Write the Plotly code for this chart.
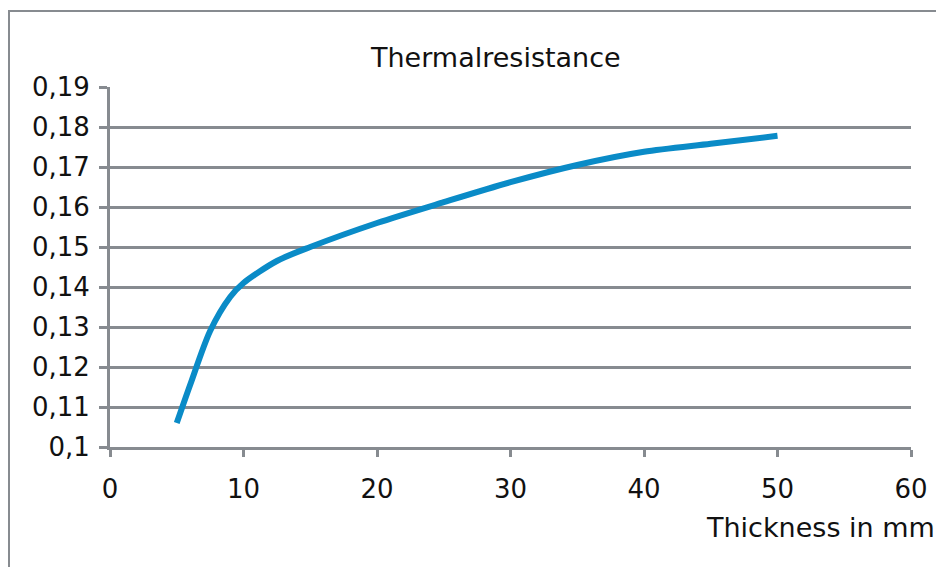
import plotly.graph_objects as go

thickness_mm = [5, 6, 7.5, 9, 10, 12.5, 15, 20, 25, 30, 35, 40, 45, 50]
resistance = [0.106, 0.1155, 0.129, 0.1375, 0.141, 0.1465, 0.150, 0.156, 0.1612, 0.1662, 0.1705, 0.1738, 0.1758, 0.1778]

y_tickvals = [0.10, 0.11, 0.12, 0.13, 0.14, 0.15, 0.16, 0.17, 0.18, 0.19]
y_ticktext = ["0,1", "0,11", "0,12", "0,13", "0,14", "0,15", "0,16", "0,17", "0,18", "0,19"]
x_tickvals = [0, 10, 20, 30, 40, 50, 60]

title_text = "Thermalresistance"
x_title = "Thickness in mm"

GRID = "#878b90"
LINE = "#0a8bc7"
FONT = "DejaVu Sans"

# page body has an 8px margin; figure is sized to fit the window
OFF = 8
W, H = 944 - OFF, 567 - OFF
L, R, T, B = 110 - OFF, 33, 87 - OFF, 120
pw, ph = W - L - R, H - T - B

def px(xp):
    return (xp - OFF - L) / pw

def py(yp):
    return (H - B - (yp - OFF)) / ph

fig = go.Figure()
fig.add_trace(go.Scatter(
    x=thickness_mm, y=resistance, mode="lines",
    line=dict(color=LINE, width=6, shape="spline", smoothing=0.8),
    hoverinfo="skip", showlegend=False,
))

fig.update_layout(
    width=W, height=H,
    margin=dict(l=L, r=R, t=T, b=B),
    paper_bgcolor="white", plot_bgcolor="white",
    font=dict(family=FONT, size=26, color="#111111"),
    xaxis=dict(
        range=[0, 60], tickvals=x_tickvals, showgrid=False, zeroline=False,
        showline=True, linecolor=GRID, linewidth=3,
        ticks="outside", ticklen=7, tickwidth=3, tickcolor=GRID,
        tickfont=dict(size=26), ticklabelstandoff=10,
    ),
    yaxis=dict(
        range=[0.1, 0.19], tickvals=y_tickvals, ticktext=y_ticktext,
        showgrid=True, gridcolor=GRID, gridwidth=3, zeroline=False,
        showline=True, linecolor=GRID, linewidth=3,
        ticks="outside", ticklen=8, tickwidth=3, tickcolor=GRID,
        tickfont=dict(size=26), ticklabelstandoff=4,
    ),
    annotations=[
        dict(text=title_text, x=px(495), y=py(57), xref="paper", yref="paper",
             showarrow=False, xanchor="center", yanchor="middle",
             font=dict(size=27, family=FONT, color="#111111")),
        dict(text=x_title, x=px(937), y=py(527), xref="paper", yref="paper",
             showarrow=False, xanchor="right", yanchor="middle",
             font=dict(size=27, family=FONT, color="#111111")),
    ],
    shapes=[
        dict(type="rect", xref="paper", yref="paper",
             x0=px(9), x1=px(1000), y0=py(640), y1=py(11),
             line=dict(color=GRID, width=2), layer="below"),
    ],
)

fig.write_html("out.html")
